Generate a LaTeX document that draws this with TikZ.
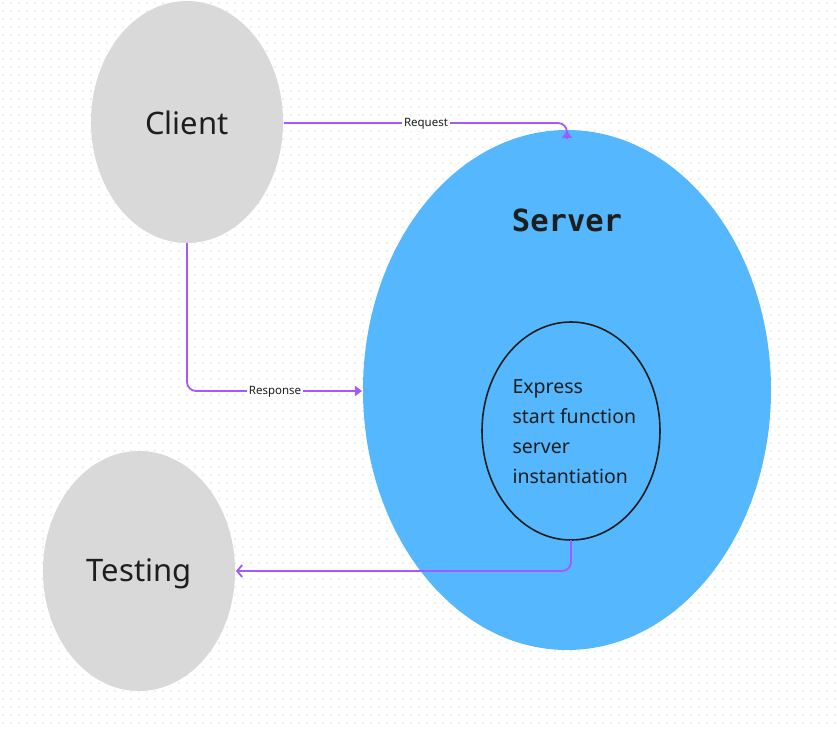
\documentclass[tikz,border=0pt]{standalone}
\usepackage{fontspec}
\setmainfont{Noto Sans}
\newfontfamily\monob{DejaVu Sans Mono}
\usetikzlibrary{arrows.meta}
\definecolor{greyfill}{HTML}{D9D9D9}
\definecolor{serverblue}{HTML}{55B8FE}
\definecolor{linkpurple}{HTML}{A259FF}
\definecolor{dotgrey}{HTML}{EFEFEF}
\definecolor{txt}{HTML}{1E1E1E}
\begin{document}
\begin{tikzpicture}[x=1pt,y=-1pt,
  link/.style={draw=linkpurple,line width=1.8pt,rounded corners=9pt},
  tip/.style={draw=linkpurple,fill=linkpurple,line width=1.8pt},
  lbl/.style={fill=white,inner sep=2pt,font=\fontsize{11.5}{13}\selectfont,text=txt}]
\useasboundingbox (0,0) rectangle (837,730);
\fill[white] (0,0) rectangle (837,730);
\foreach \i in {0,...,104}{\foreach \j in {0,...,91}{\fill[dotgrey] (2+8*\i,2+8*\j) rectangle ++(1.6,1.6);}}
\fill[greyfill] (187,122) ellipse [x radius=96, y radius=121];
\fill[greyfill] (139,571) ellipse [x radius=96, y radius=120];
\fill[serverblue] (567,390) ellipse [x radius=204, y radius=260];
\draw[txt,line width=1.6pt] (571,431) ellipse [x radius=89, y radius=109];
\coordinate (cB) at (187,243); \coordinate (cR) at (284,123);
\coordinate (tR) at (236,571);
\coordinate (sT) at (567,131); \coordinate (sL) at (362,391);
\coordinate (iB) at (571,540);
\coordinate (k1) at (567,123); \coordinate (k2) at (187,391); \coordinate (k3) at (571,571);
\node[text=txt,font=\fontsize{31}{36}\selectfont] (client) at (187,123) {Client};
\node[text=txt,font=\fontsize{31}{36}\selectfont] (testing) at (139,574) {Testing};
\node[text=txt,font=\monob\bfseries\fontsize{30.5}{34}\selectfont] (server) at (567,220) {Server};
\node[text=txt,font=\fontsize{19.5}{30}\selectfont,align=left,anchor=west] (inner) at (509,432) {Express\\start function\\server\\instantiation};
\draw[link] (cR) -- (k1) -- ([yshift=-6]sT);
\draw[tip,-{Triangle[length=7pt,width=10pt]}] ([yshift=-7]sT) -- (sT);
\node[lbl] (req) at (426,124) {Request};
\draw[link] (cB) -- (k2) -- ([xshift=-6]sL);
\draw[tip,-{Triangle[length=7pt,width=10pt]}] ([xshift=-7]sL) -- (sL);
\node[lbl] (resp) at (275,392) {Response};
\draw[link] (iB) -- (k3) -- ([xshift=8]tR);
\draw[draw=linkpurple,line width=1.8pt,-{Straight Barb[length=5pt,width=12pt]}] ([xshift=9]tR) -- (tR);
\end{tikzpicture}
\end{document}
